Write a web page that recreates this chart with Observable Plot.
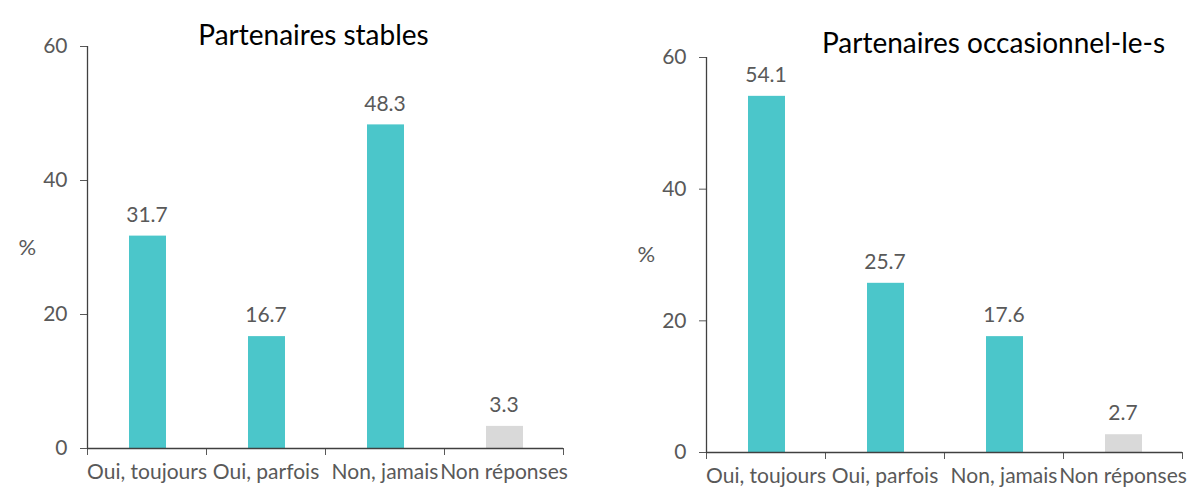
<!DOCTYPE html>
<html>
<head>
<meta charset="utf-8">
<script src="https://cdn.jsdelivr.net/npm/d3@7"></script>
<script src="https://cdn.jsdelivr.net/npm/@observablehq/plot@0.6"></script>
<style>
  html, body { margin: 0; padding: 0; background: white; }
  #wrap { position: relative; width: 1197px; height: 493px; overflow: hidden; }
  #left, #right { position: absolute; top: 0; }
  #left { left: 0; }
  #right { left: 598px; }
</style>
</head>
<body>
<div id="wrap"><div id="left"></div><div id="right"></div></div>
<script>
const categories = ["Oui, toujours", "Oui, parfois", "Non, jamais", "Non réponses"];
const stablesValues = [31.7, 16.7, 48.3, 3.3];
const occasionnelsValues = [54.1, 25.7, 17.6, 2.7];
const yTicks = [0, 20, 40, 60];
const titles = ["Partenaires stables", "Partenaires occasionnel-le-s"];

const TEAL = "#4BC6CA";
const GREY = "#D9D9D9";
const TEXT = "#595959";
const AXIS = "#404040";

function panel(values, title, opts) {
  const data = categories.map((cat, i) => ({cat, value: values[i], i}));
  return Plot.plot({
    width: opts.width,
    height: 493,
    marginLeft: opts.ml,
    marginRight: opts.mr,
    marginTop: opts.mt,
    marginBottom: opts.mb,
    style: {fontFamily: "Lato, sans-serif", fontSize: "21px", color: TEXT, background: "white", overflow: "visible"},
    x: {type: "linear", domain: [0, categories.length], ticks: d3.range(categories.length + 1), tickFormat: () => "", tickSize: 7, label: null},
    y: {domain: [0, 60], ticks: yTicks, tickSize: 7, tickPadding: 13, label: null},
    marks: [
      Plot.rectY(data, {
        x1: d => d.i, x2: d => d.i + 1, y: "value",
        insetLeft: 42, insetRight: 40,
        fill: d => d.cat === "Non réponses" ? GREY : TEAL
      }),
      Plot.ruleX([0], {y1: 0, y2: 60, stroke: AXIS, strokeWidth: 1.3}),
      Plot.ruleY([0], {x1: 0, x2: categories.length, stroke: AXIS, strokeWidth: 1.3}),
      Plot.text(data, {
        x: d => d.i + 0.5, y: "value", text: d => d.value.toFixed(1),
        dy: -21, fontSize: 21, fill: TEXT
      }),
      Plot.text(data, {
        x: d => d.i + 0.5, frameAnchor: "bottom", text: "cat",
        dy: 30, fontSize: 21, fill: TEXT
      }),
      Plot.text([title], {
        frameAnchor: "top", text: d => d, dx: opts.tdx, dy: opts.tdy,
        fontSize: 28, fill: "black"
      }),
      Plot.text(["%"], {
        frameAnchor: "left", text: d => d, dx: -69, dy: 0,
        fontSize: 22, fill: TEXT
      })
    ]
  });
}

document.getElementById("left").appendChild(
  panel(stablesValues, titles[0], {width: 598, ml: 87, mr: 35, mt: 46, mb: 45, tdx: -12, tdy: -21})
);
document.getElementById("right").appendChild(
  panel(occasionnelsValues, titles[1], {width: 599, ml: 108, mr: 15, mt: 57, mb: 41, tdx: 49, tdy: -24})
);
</script>
</body>
</html>
